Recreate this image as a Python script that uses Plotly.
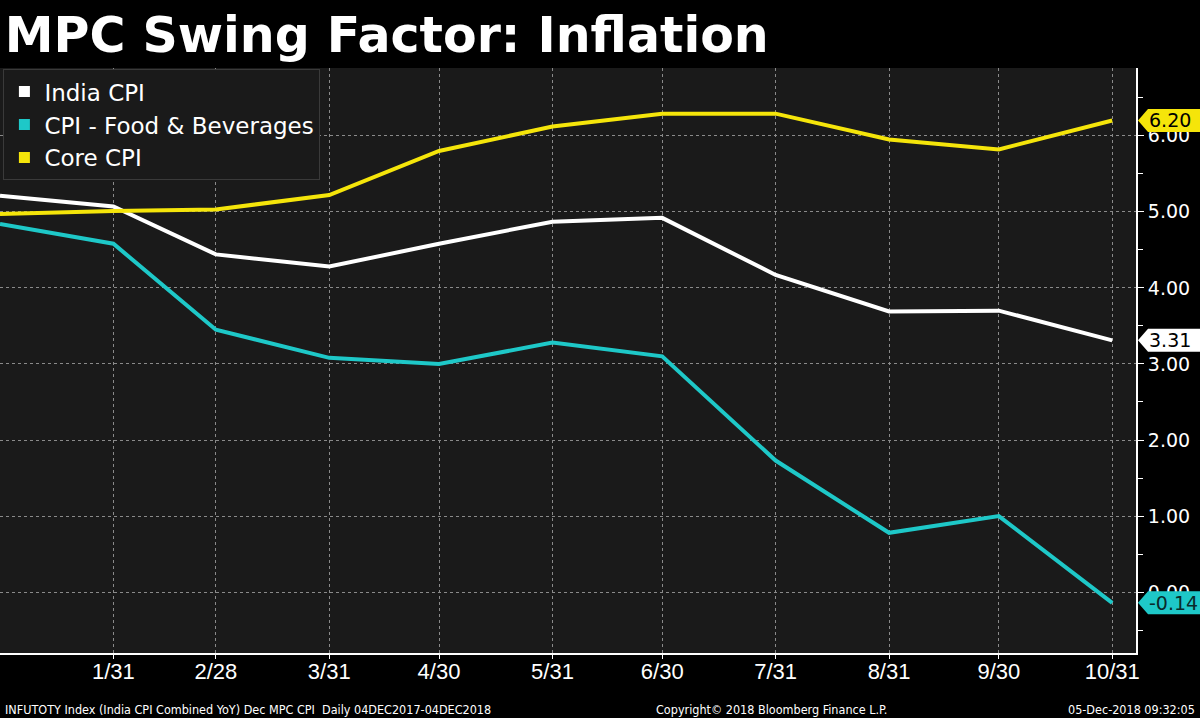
import plotly.graph_objects as go

dates = ["2017-12-31", "2018-01-31", "2018-02-28", "2018-03-31", "2018-04-30",
         "2018-05-31", "2018-06-30", "2018-07-31", "2018-08-31", "2018-09-30", "2018-10-31"]
india_cpi = [5.21, 5.07, 4.44, 4.28, 4.58, 4.87, 4.92, 4.17, 3.69, 3.70, 3.31]
food_bev = [4.84, 4.58, 3.45, 3.08, 3.00, 3.28, 3.10, 1.73, 0.78, 1.00, -0.14]
core_cpi = [4.97, 5.01, 5.03, 5.22, 5.80, 6.12, 6.29, 6.29, 5.95, 5.82, 6.20]

tick_dates = dates[1:]
tick_text = ["1/31", "2/28", "3/31", "4/30", "5/31", "6/30", "7/31", "8/31", "9/30", "10/31"]
y_ticks = [0, 1, 2, 3, 4, 5, 6]
y_tick_text = ["0.00", "1.00", "2.00", "3.00", "4.00", "5.00", "6.00"]

series = [
    ("India CPI", india_cpi, "#ffffff", "#000000"),
    ("CPI - Food & Beverages", food_bev, "#1ec8c8", "#0a2a2a"),
    ("Core CPI", core_cpi, "#f5e50a", "#000000"),
]

fig = go.Figure()
for name, vals, col, _ in series:
    fig.add_trace(go.Scatter(x=dates, y=vals, mode="lines", name=name,
                             line=dict(color=col, width=4), showlegend=False))
for name, vals, col, _ in series:
    fig.add_trace(go.Scatter(x=[None], y=[None], mode="markers", name=name,
                             marker=dict(symbol="square", size=11, color=col),
                             showlegend=True))

shapes = []
annotations = []
for name, vals, col, tcol in series:
    last = vals[-1]
    shapes.append(dict(type="path", xref="paper", yref="y", xsizemode="pixel", ysizemode="pixel",
                       xanchor=1, yanchor=last,
                       path="M 2,0 L 12,-11.5 L 64,-11.5 L 64,11.5 L 12,11.5 Z",
                       fillcolor=col, line=dict(width=0), layer="above"))
    annotations.append(dict(x=1, xref="paper", y=last, yref="y", xanchor="left", yanchor="middle",
                            xshift=11, text=f"{last:.2f}", showarrow=False,
                            font=dict(family="DejaVu Sans", size=19, color=tcol)))

foot_font = dict(family="Liberation Sans Narrow, DejaVu Sans Condensed", size=12.5, color="#ffffff")
annotations += [
    dict(x=3/1136, y=-0.096, xref="paper", yref="paper", xanchor="left", yanchor="middle",
         text="INFUTOTY Index (India CPI Combined YoY) Dec MPC CPI  Daily 04DEC2017-04DEC2018",
         showarrow=False, font=foot_font),
    dict(x=771/1136, y=-0.096, xref="paper", yref="paper", xanchor="center", yanchor="middle",
         text="Copyright© 2018 Bloomberg Finance L.P.", showarrow=False, font=foot_font),
    dict(x=1197/1136, y=-0.096, xref="paper", yref="paper", xanchor="right", yanchor="middle",
         text="05-Dec-2018 09:32:05", showarrow=False, font=foot_font),
]

fig.update_layout(
    width=1200, height=718,
    paper_bgcolor="#000000", plot_bgcolor="#1a1a1a",
    margin=dict(l=0, r=64, t=68, b=65, autoexpand=False),
    title=dict(text="<b>MPC Swing Factor: Inflation</b>", x=0.004, xanchor="left",
               y=1 - 35/718, yanchor="middle",
               font=dict(family="DejaVu Sans", size=49, color="#ffffff")),
    xaxis=dict(type="date", range=["2017-12-31", "2018-11-06 12:00"],
               tickvals=tick_dates, ticktext=tick_text,
               tickfont=dict(family="Liberation Sans, Arial", size=22, color="#ffffff"),
               showgrid=True, gridcolor="#8a8a8a", griddash="dot", gridwidth=1,
               showline=True, linecolor="#ffffff", linewidth=2,
               ticks="outside", ticklen=4, tickcolor="#ffffff", zeroline=False,
               ticklabelstandoff=-6),
    yaxis=dict(side="right", range=[-0.80, 6.89],
               tickvals=y_ticks, ticktext=y_tick_text,
               tickfont=dict(family="DejaVu Sans", size=19, color="#ffffff"),
               showgrid=True, gridcolor="#8a8a8a", griddash="dot", gridwidth=1,
               showline=True, linecolor="#ffffff", linewidth=2,
               ticks="outside", ticklen=6, tickcolor="#ffffff", zeroline=False,
               minor=dict(dtick=0.5, ticks="outside", ticklen=5, tickcolor="#ffffff", showgrid=False)),
    legend=dict(x=0.003, y=0.998, xanchor="left", yanchor="top",
                bgcolor="#1a1a1a", bordercolor="#3a3a3a", borderwidth=1,
                font=dict(family="DejaVu Sans", size=23, color="#ffffff"),
                itemwidth=30, tracegroupgap=0),
    shapes=shapes, annotations=annotations,
)

fig.write_html("out.html", config={"displayModeBar": False},
               post_script="document.body.style.margin='0px';document.body.style.padding='0px';")
